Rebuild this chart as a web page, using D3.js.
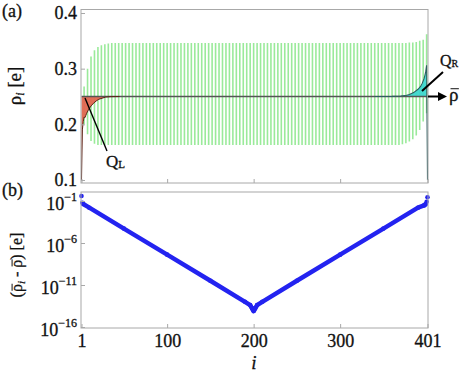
<!DOCTYPE html>
<html><head><meta charset="utf-8">
<script src="https://cdn.jsdelivr.net/npm/d3@7"></script>
<style>
body{margin:0;background:#fff;}
svg{display:block;}
svg text{font-family:"Liberation Serif","Times New Roman",serif;fill:#111;stroke:#111;stroke-width:0.3px;}
</style></head>
<body>
<script>
// ---------- data ----------
const xTicks = [1, 100, 200, 300, 401];
const topTicks = [0.1, 0.2, 0.3, 0.4];
const botTickExps = [-1, -6, -11, -16];
const rhoBar = 0.25;

// green oscillating density (one spike every 4 sites): site, high, low
const greenIdx = [4,8,12,16,20,24,28,32,36,40,44,48,52,56,60,64,68,72,76,80,84,88,92,96,100,
 104,108,112,116,120,124,128,132,136,140,144,148,152,156,160,164,168,172,176,180,184,188,192,196,200,
 204,208,212,216,220,224,228,232,236,240,244,248,252,256,260,264,268,272,276,280,284,288,292,296,300,
 304,308,312,316,320,324,328,332,336,340,344,348,352,356,360,364,368,372,376,380,384,388,392,396,400];
const greenHigh = [0.268,0.300,0.322,0.333,0.339,0.342,0.344,0.345,0.346,0.346,0.346,0.346,0.346,0.346,0.346,0.346,0.346,0.346,0.346,0.346,0.346,0.346,0.346,0.346,0.346,
 0.346,0.346,0.346,0.346,0.346,0.346,0.346,0.346,0.346,0.346,0.346,0.346,0.346,0.346,0.346,0.346,0.346,0.346,0.346,0.346,0.346,0.346,0.346,0.346,0.346,
 0.346,0.346,0.346,0.346,0.346,0.346,0.346,0.346,0.346,0.346,0.346,0.346,0.346,0.346,0.346,0.346,0.346,0.346,0.346,0.346,0.346,0.346,0.346,0.346,0.346,
 0.346,0.346,0.346,0.346,0.346,0.346,0.346,0.346,0.346,0.346,0.346,0.346,0.346,0.346,0.346,0.346,0.346,0.346,0.346,0.347,0.347,0.348,0.350,0.352,0.362];
const greenLow = [0.200,0.182,0.170,0.165,0.163,0.163,0.163,0.163,0.163,0.163,0.163,0.163,0.163,0.163,0.163,0.163,0.163,0.163,0.163,0.163,0.163,0.163,0.163,0.163,0.163,
 0.163,0.163,0.163,0.163,0.163,0.163,0.163,0.163,0.163,0.163,0.163,0.163,0.163,0.163,0.163,0.163,0.163,0.163,0.163,0.163,0.163,0.163,0.163,0.163,0.163,
 0.163,0.163,0.163,0.163,0.163,0.163,0.163,0.163,0.163,0.163,0.163,0.163,0.163,0.163,0.163,0.163,0.163,0.163,0.163,0.163,0.163,0.163,0.163,0.163,0.163,
 0.163,0.163,0.163,0.163,0.163,0.163,0.163,0.163,0.163,0.163,0.163,0.163,0.163,0.163,0.163,0.163,0.163,0.164,0.166,0.169,0.173,0.180,0.190,0.205,0.220];

// left edge density (Q_L region)
const redIdx = [1,2,3,4,5,6,7,9,12,15,18,21,25,29,35,45];
const redVal = [0.100,0.190,0.205,0.213,0.212,0.216,0.220,0.226,0.233,0.238,0.242,0.245,0.247,0.249,0.2497,0.250];

// right edge density (Q_R region)
const cyanIdx = [340,360,370,375,380,385,390,393,395,397,398,399,400,401];
const cyanVal = [0.250,0.2502,0.2508,0.2515,0.2535,0.257,0.263,0.268,0.274,0.282,0.288,0.295,0.306,0.100];

// panel (b): deviation (log scale)
const blueIdx = [1,2,3,10,50,100,150,190,196,198,199,200,201,202,204,210,250,300,350,390,397,398,399,400,401];
const blueVal = [0.40,0.063,0.044,1.6e-2,5.2e-5,4.1e-8,3.2e-11,1.0e-13,4.0e-14,1.8e-14,1.2e-14,8.0e-15,1.2e-14,1.8e-14,4.0e-14,1.0e-13,3.2e-11,4.1e-8,5.2e-5,1.6e-2,0.030,0.036,0.044,0.083,0.28];

// ---------- drawing ----------
const W = 464, H = 375;
const svg = d3.select("body").append("svg").attr("width", W).attr("height", H);
const defs = svg.append("defs");
defs.append("clipPath").attr("id", "clipA").append("rect")
  .attr("x", 81).attr("y", 9.5).attr("width", 348).attr("height", 173.5);
defs.append("clipPath").attr("id", "clipB").append("rect")
  .attr("x", 74).attr("y", 188).attr("width", 360).attr("height", 145);

const L = 81, R = 428;
const x = d3.scaleLinear().domain([1, 401]).range([81.5, 427.5]);
const yTop = d3.scaleLinear().domain([0.1, 0.4]).range([180, 13]);
const yBot = d3.scaleLog().domain([1e-16, 1e-1]).range([327, 201]);
const frameColor = "#a8a8a8";
const FS = 18;

// overbar helper: draws a bar above character `idx` of text node inside its parent group
function overbar(textSel, idx, fs) {
  const node = textSel.node();
  const p0 = node.getStartPositionOfChar(idx);
  const p1 = node.getEndPositionOfChar(idx);
  d3.select(node.parentNode).append("line")
    .attr("x1", p0.x + 0.08 * fs).attr("x2", p1.x + 0.02 * fs)
    .attr("y1", p0.y - 0.62 * fs).attr("y2", p0.y - 0.62 * fs)
    .attr("stroke", "#111").attr("stroke-width", 1);
}

// ----- panel (a) -----
const pa = svg.append("g");
const plotA = pa.append("g").attr("clip-path", "url(#clipA)");
// green spikes
plotA.append("g").selectAll("line").data(greenIdx).join("line")
  .attr("x1", d => x(d)).attr("x2", d => x(d))
  .attr("y1", (d, k) => yTop(greenHigh[k])).attr("y2", (d, k) => yTop(greenLow[k]))
  .attr("stroke", "#8fe88f").attr("stroke-width", 1.6).attr("stroke-opacity", 0.9);

// red fill
const redPts = redIdx.map((d, k) => [d, redVal[k]]);
plotA.append("path").datum(redPts)
  .attr("d", d3.area().x(d => x(d[0])).y0(yTop(rhoBar)).y1(d => yTop(d[1])))
  .attr("fill", "#e06650").attr("fill-opacity", 0.95);
// cyan fill
const cyanPts = cyanIdx.map((d, k) => [d, cyanVal[k]]);
plotA.append("path").datum(cyanPts.slice(0, -1))
  .attr("d", d3.area().x(d => x(d[0])).y0(yTop(rhoBar)).y1(d => yTop(d[1])))
  .attr("fill", "#3dd8cf").attr("fill-opacity", 0.95);

// mean line
plotA.append("line").attr("x1", x(1)).attr("x2", x(401))
  .attr("y1", yTop(rhoBar)).attr("y2", yTop(rhoBar))
  .attr("stroke", "#555").attr("stroke-width", 1.3);

// curves
plotA.append("path").datum(redPts)
  .attr("d", d3.line().x(d => x(d[0])).y(d => yTop(d[1])))
  .attr("fill", "none").attr("stroke", "#5a2418").attr("stroke-width", 1);
plotA.append("path").datum(cyanPts)
  .attr("d", d3.line().x(d => x(d[0])).y(d => yTop(d[1])))
  .attr("fill", "none").attr("stroke", "#2e5e60").attr("stroke-width", 1.1);

// frame
pa.append("rect").attr("x", L).attr("y", 9.5).attr("width", R - L).attr("height", 183 - 9.5)
  .attr("fill", "none").attr("stroke", frameColor).attr("stroke-width", 1);

// y axis (a)
const axA = pa.append("g").attr("transform", `translate(${L},0)`)
  .call(d3.axisLeft(yTop).tickValues(topTicks).tickSize(-4).tickPadding(4).tickFormat(d3.format(".1f")));
axA.attr("font-family", null).attr("font-size", null);
axA.select(".domain").remove();
axA.selectAll(".tick line").attr("stroke", frameColor);
axA.selectAll("text").attr("font-size", FS).attr("fill", "#111");

// top panel x ticks (no labels)
const axAx = pa.append("g").attr("transform", `translate(0,183)`)
  .call(d3.axisBottom(x).tickValues(xTicks).tickSize(-4).tickFormat(() => ""));
axAx.select(".domain").remove();
axAx.selectAll(".tick line").attr("stroke", frameColor);

// arrow to rho bar
const ay = yTop(rhoBar);
pa.append("line").attr("x1", R).attr("x2", 440).attr("y1", ay).attr("y2", ay)
  .attr("stroke", "#000").attr("stroke-width", 2);
pa.append("path").attr("d", `M438,${ay-4.5} L447,${ay} L438,${ay+4.5} Z`).attr("fill", "#000");
const rbG = pa.append("g");
const rb = rbG.append("text").attr("x", 449).attr("y", ay + 4).attr("font-size", 19).text("ρ");
overbar(rb, 0, 19);

// Q labels
pa.append("line").attr("x1", 85).attr("y1", 98).attr("x2", 107).attr("y2", 151)
  .attr("stroke", "#000").attr("stroke-width", 1.4);
const ql = pa.append("text").attr("x", 106).attr("y", 167).attr("font-size", 17);
ql.append("tspan").text("Q");
ql.append("tspan").attr("font-size", 11).attr("dy", 1).text("L");

pa.append("line").attr("x1", 422).attr("y1", 91).attr("x2", 443).attr("y2", 72)
  .attr("stroke", "#000").attr("stroke-width", 2);
const qr = pa.append("text").attr("x", 440).attr("y", 66).attr("font-size", 16);
qr.append("tspan").text("Q");
qr.append("tspan").attr("font-size", 10).attr("dy", 1).text("R");

// y label (a)
const yla = pa.append("text").attr("transform", "translate(21,86) rotate(-90)")
  .attr("text-anchor", "middle").attr("font-size", 19);
yla.append("tspan").text("ρ");
yla.append("tspan").attr("font-size", 12).attr("font-style", "italic").attr("dy", 3).text("i");
yla.append("tspan").attr("dy", -3).text(" [e]");

pa.append("text").attr("x", 2).attr("y", 17).attr("font-size", FS).text("(a)");

// ----- panel (b) -----
const pb = svg.append("g");
const bluePts = blueIdx.map((d, k) => [d, blueVal[k]]);
const plotB = pb.append("g").attr("clip-path", "url(#clipB)");
plotB.append("path").datum(bluePts.slice(2, -2))
  .attr("d", d3.line().x(d => x(d[0])).y(d => yBot(d[1])))
  .attr("fill", "none").attr("stroke", "#2323f0").attr("stroke-width", 4.5)
  .attr("stroke-linejoin", "round").attr("stroke-linecap", "round");
plotB.append("g").selectAll("circle").data(bluePts).join("circle")
  .attr("cx", d => x(d[0])).attr("cy", d => yBot(d[1])).attr("r", 2.3)
  .attr("fill", "#2323f0");

pb.append("rect").attr("x", L).attr("y", 192).attr("width", R - L).attr("height", 328 - 192)
  .attr("fill", "none").attr("stroke", frameColor).attr("stroke-width", 1);

const axBy = pb.append("g").attr("transform", `translate(${L},0)`)
  .call(d3.axisLeft(yBot).tickValues(botTickExps.map(e => Math.pow(10, e))).tickSize(-4).tickPadding(4).tickFormat(() => ""));
axBy.attr("font-family", null).attr("font-size", null);
axBy.select(".domain").remove();
axBy.selectAll(".tick line").attr("stroke", frameColor);
axBy.selectAll(".tick text").each(function(d, k) {
  const t = d3.select(this).attr("font-size", FS).attr("fill", "#111").attr("dy", "0.45em");
  t.append("tspan").text("10");
  t.append("tspan").attr("font-size", 12).attr("dy", "-0.75em").text("\u2212" + Math.abs(botTickExps[k]));
});

const axBx = pb.append("g").attr("transform", `translate(0,328)`)
  .call(d3.axisBottom(x).tickValues(xTicks).tickSize(-4).tickPadding(6).tickFormat(d3.format("d")));
axBx.attr("font-family", null).attr("font-size", null);
axBx.select(".domain").remove();
axBx.selectAll(".tick line").attr("stroke", frameColor);
axBx.selectAll("text").attr("font-size", FS).attr("fill", "#111");

pb.append("text").attr("x", 254).attr("y", 369).attr("text-anchor", "middle")
  .attr("font-size", 19).attr("font-style", "italic").text("i");

const ylbG = pb.append("g").attr("transform", "translate(22,265) rotate(-90)");
const ylb = ylbG.append("text").attr("text-anchor", "middle").attr("font-size", 16);
ylb.append("tspan").text("(ρ");
ylb.append("tspan").attr("font-size", 11).attr("font-style", "italic").attr("dy", 3).text("i");
ylb.append("tspan").attr("dy", -3).text(" - ρ) [e]");
overbar(ylb, 1, 16);
overbar(ylb, 6, 16);

pb.append("text").attr("x", 2).attr("y", 196).attr("font-size", FS).text("(b)");
</script>
</body></html>
